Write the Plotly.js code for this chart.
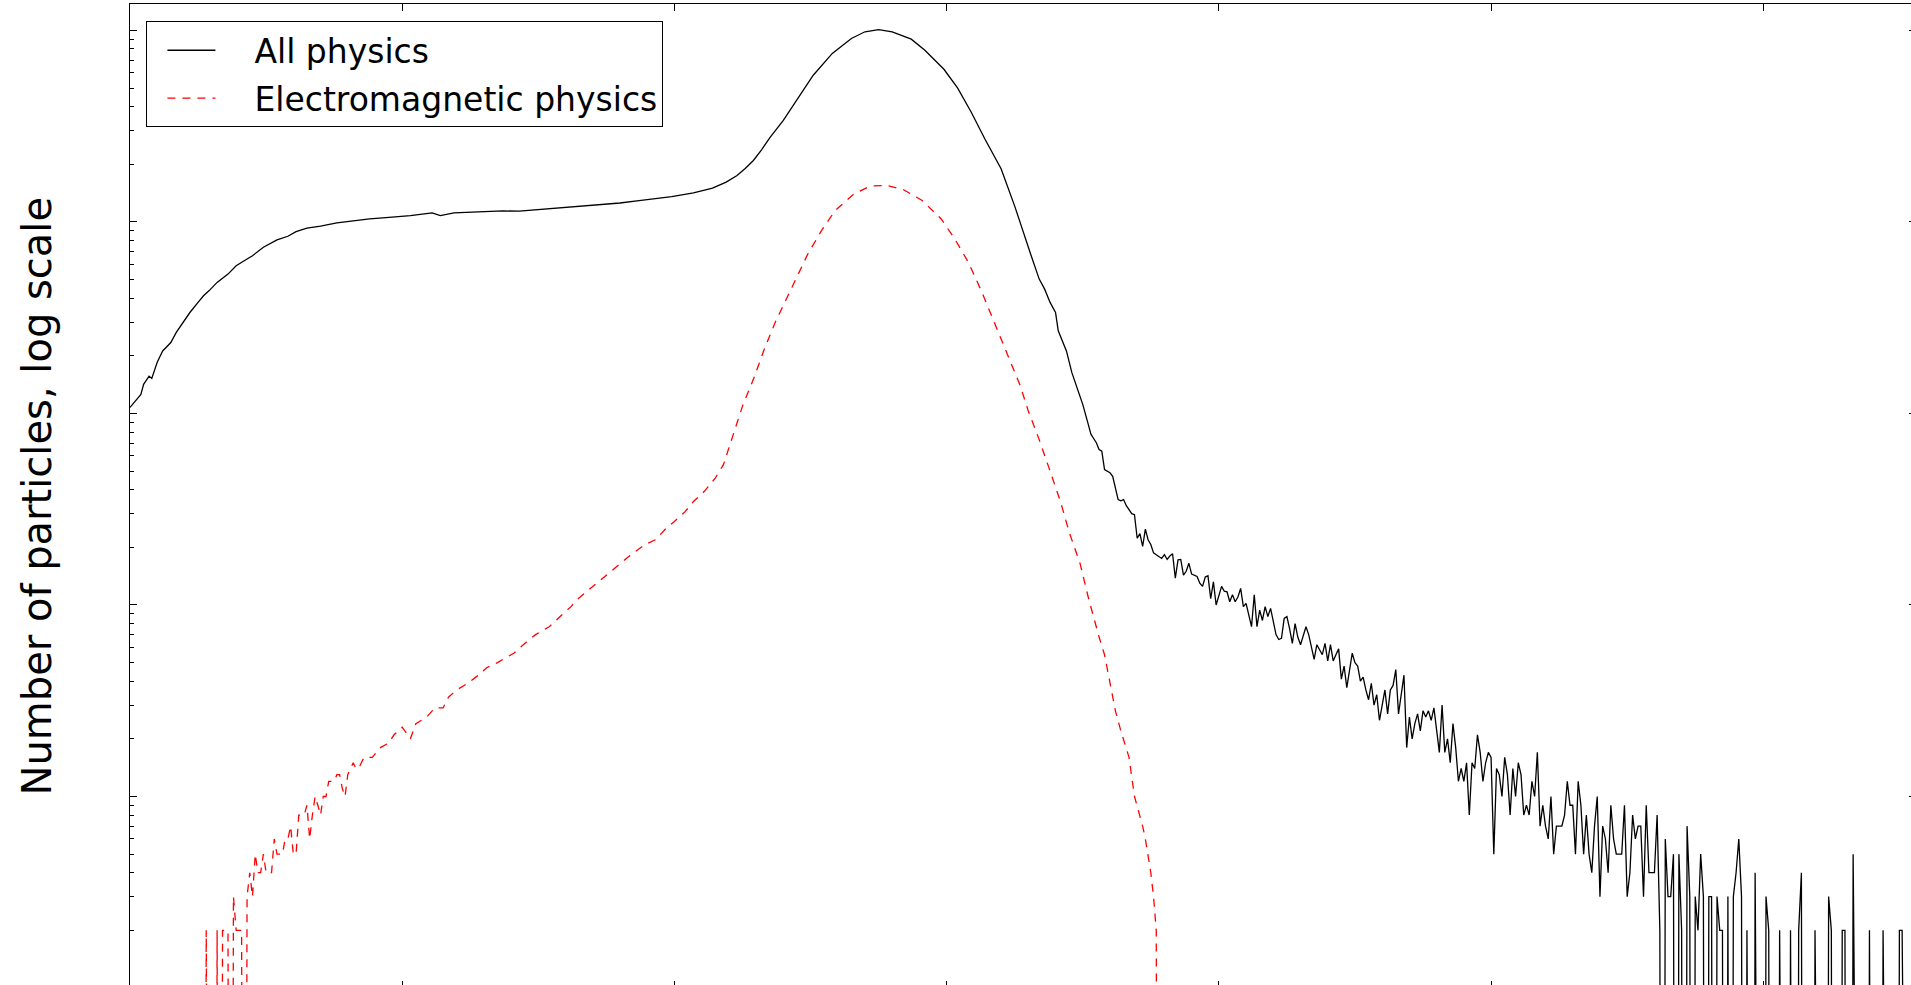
<!DOCTYPE html>
<html>
<head>
<meta charset="utf-8">
<script src="https://cdn.plot.ly/plotly-3.0.1.min.js"></script>
<style>
html,body{margin:0;padding:0;overflow:hidden;background:#ffffff;}
#chart{width:1916px;height:988px;}
</style>
</head>
<body>
<div id="chart"></div>
<script>
// ---- All physics: smooth part (bin index, counts) ----
const allPhysicsBins = [0,4,5,7,8,10,12,15,17,20,22,25,27,29,32,36,39,43,45,49,
  54,58,61,65,70,76,82,88,94,103,111,114,119,131,137,143,156,168,173,180,
  187,199,207,214,219,223,226,229,232,235,240,245,251,258,265,270,275,280,287,292,
  299,304,309,314,320,325,329,331,334,336,338,340,341,344,346,350,352];
const allPhysicsCounts = [1075,1257,1419,1567,1524,1849,2120,2345,2648,3044,
  3366,3800,4114,4368,4833,5343,5908,6400,6664,7375,
  8054,8418,8905,9276,9504,9890,10163,10366,10537,10790,
  11150,10790,11150,11380,11420,11380,11800,12170,12270,12560,
  12920,13570,14190,15010,16140,17470,19000,20940,23800,27500,
  33900,43150,58340,75860,90800,98400,100900,98400,90000,78850,
  62700,50120,37520,27200,18950,12100,8000,6700,5030,4458,
  3800,3366,2700,2120,1633,1115,880];

// ---- All physics: noisy tail, one count per bin starting at bin 353 ----
const allPhysicsTailStart = 353;
const allPhysicsTail = [
  780,740,703,648,635,509,500,490,470,400,
  355,350,355,330,314,300,296,223,236,202,
  249,219,207,187,183,179,175,183,173,180,
  185,138,172,173,143,150,165,145,143,141,
  130,125,140,142,108,132,100,112,125,118,
  117,104,113,104,110,122,98,102,90,77,
  113,77,94,83,98,87,96,80,70,66,
  67,85,87,75,63,80,68,62,70,77,
  70,60,52,62,58,55,63,51,62,51,
  55,59,41,48,37,45,56,50,48,40,
  42,36,32,39,30,34,25,30,36,27,
  36,38,46,27,35,43,18,26,20,24,
  27,22,28,26,28,25,29,22,17,30,
  17,20,15,24,18,12,14,12,15,8,
  15,14,21,17,12,15,17,16,5,14,
  13,10,16,13,8,14,10,15,13,8,
  9,8,12,10,17,7,9,7,6,10,
  5,7,7,7,8,12,9,9,5,12,
  9,5,8,5,4,7,10,3,7,6,
  4,9,6,5,5,5,9,3,4,8,
  6,7,7,3,9,4,4,4,8,2,
  0,6,3,3,5,0,5,2,0,7,
  3,0,3,2,5,3,0,3,3,0,
  3,2,2,0,3,0,3,4,6,3,
  0,2,0,0,4,0,0,0,3,2,
  0,0,0,2,0,0,0,2,0,0,
  2,4,0,0,0,0,2,0,0,0,
  0,3,2,0,0,0,2,2,0,0,
  5,0,0,0,0,0,2,0,0,0,
  0,2,0,0,0,0,0,2,2,0,
  0,0,0,0];

// ---- Electromagnetic physics: noisy start, one count per bin from bin 27 ----
const emStartBin = 27;
const emStart = [
  0,2,0,0,0,2,0,2,2,2,
  0,3,2,2,2,0,3,4,3,5,
  4,4,5,4,4,4,6,5,5,5,
  6,6,7,5,5,8,8,8,9,6,
  8,10,9,8,10,10,12,12,12,13,
  13,11,10,13,14,15,14,14,15,16];

// ---- Electromagnetic physics: rest (bin index, counts) ----
const emBins = [89,92,95,97,100,103,105,109,112,115,
  117,120,124,128,131,135,141,145,149,154,
  158,162,164,168,176,183,189,193,197,200,
  204,207,211,215,218,221,225,229,233,237,
  241,245,249,254,259,266,272,278,284,291,
  298,303,308,313,318,323,327,330,334,338,
  342,345,349,352,355,356,358,360,362,364,
  367,369,371,372,373,374,375,376,377,378];
const emCounts = [16,18,19,21,23,20,24,26,29,29,
  33,36,39,43,47,50,56,63,70,77,
  87,98,106,118,147,178,206,219,252,273,
  308,347,392,460,540,731,1092,1507,2163,2985,
  3952,5233,6798,9000,11460,14020,15390,15500,14770,12940,
  10370,8146,6150,4283,2866,1950,1400,1030,730,500,
  340,240,165,110,75,68,55,40,28,22,
  16,10,8,7,6,5,4,3,2,0];

const seriesNames = ['All physics', 'Electromagnetic physics'];
const yTitle = 'Number of particles, log scale';

// Empty bins are clipped far below the axis (like a log plot of zero counts)
const clipEmpty = v => (v > 0 ? v : 1e-6);

const blackX = allPhysicsBins.concat(allPhysicsTail.map((_, i) => allPhysicsTailStart + i));
const blackY = allPhysicsCounts.concat(allPhysicsTail).map(clipEmpty);
const redX = emStart.map((_, i) => emStartBin + i).concat(emBins);
const redY = emStart.concat(emCounts).map(clipEmpty);

const font = 'DejaVu Sans, Bitstream Vera Sans, sans-serif';

const traces = [
  {x: blackX, y: blackY, type: 'scatter', mode: 'lines', name: seriesNames[0],
   legendgroup: 'a', line: {color: '#000000', width: 1.3}},
  {x: redX, y: redY, type: 'scatter', mode: 'lines', name: seriesNames[1],
   legendgroup: 'b', line: {color: '#ff0000', width: 1.3, dash: '8px,7px'}}
];

const axisCommon = {
  ticks: 'inside', ticklen: 7, tickwidth: 1, tickcolor: '#000000',
  showline: true, linecolor: '#000000', linewidth: 1, mirror: 'ticks',
  showgrid: false, zeroline: false, showticklabels: false
};

const layout = {
  width: 1916, height: 988,
  margin: {l: 130, r: 0, t: 4, b: 0, pad: 0},
  paper_bgcolor: '#ffffff', plot_bgcolor: '#ffffff',
  showlegend: true,
  legend: {
    x: 0.0092, y: 0.9824, xanchor: 'left', yanchor: 'top',
    bgcolor: '#ffffff', bordercolor: '#000000', borderwidth: 1,
    font: {family: font, size: 33, color: '#000000'},
    tracegroupgap: 2, itemwidth: 97
  },
  xaxis: Object.assign({}, axisCommon, {range: [0, 656.1], tick0: 0, dtick: 100}),
  yaxis: Object.assign({}, axisCommon, {
    type: 'log', range: [0, 5.138], dtick: 1,
    minor: {ticks: 'inside', ticklen: 4, tickwidth: 1, tickcolor: '#000000', dtick: 'D1', showgrid: false}
  }),
  annotations: [{
    text: yTitle, xref: 'paper', yref: 'paper', x: -0.0518, y: 0.5,
    xanchor: 'center', yanchor: 'middle', textangle: -90, showarrow: false,
    font: {family: font, size: 40, color: '#000000'}
  }]
};

Plotly.newPlot('chart', traces, layout, {staticPlot: true, displayModeBar: false}).then(gd => {
  // shorten the legend sample lines to the reference's short sample, keeping the text position
  gd.querySelectorAll('.legend .legendlines path').forEach(p => p.setAttribute('d', 'M20,0h48'));
});
</script>
</body>
</html>
